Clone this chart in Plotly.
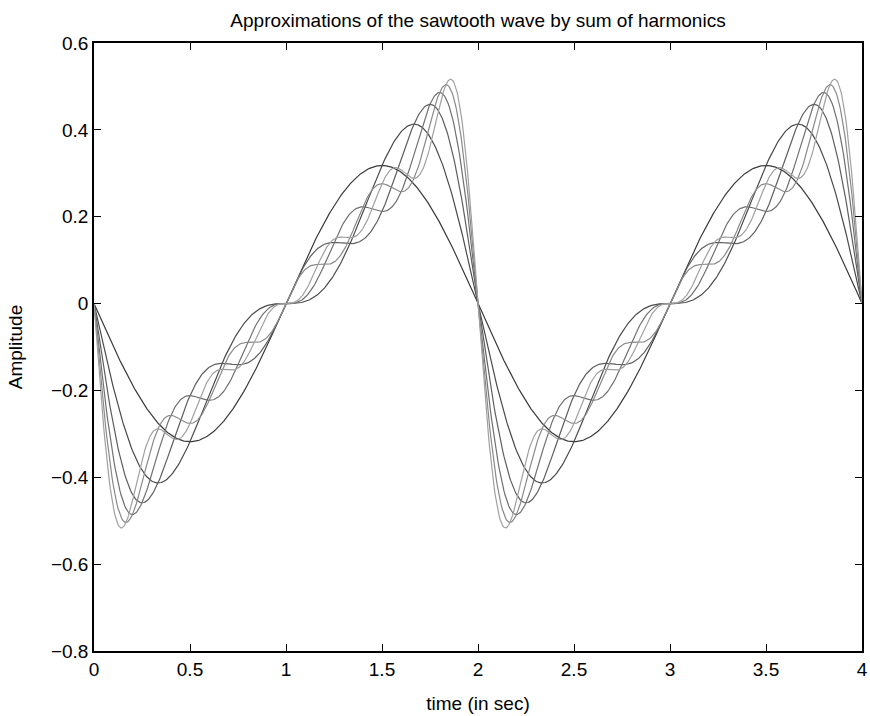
import numpy as np
import plotly.graph_objects as go

# Harmonic amplitudes of the sawtooth (fundamental peak ~0.32)
harmonic_amps = [0.318, 0.159, 0.106, 0.080, 0.064, 0.053]
num_harmonics = [1, 2, 3, 4, 5, 6]
line_grays = ["#3a3a3a", "#4a4a4a", "#5e5e5e", "#707070", "#8a8a8a", "#a0a0a0"]

period = 2.0
t = np.linspace(0, 4, 801)

x_ticks = [0, 0.5, 1, 1.5, 2, 2.5, 3, 3.5, 4]
x_tick_labels = ["0", "0.5", "1", "1.5", "2", "2.5", "3", "3.5", "4"]
y_ticks = [-0.8, -0.6, -0.4, -0.2, 0, 0.2, 0.4, 0.6]
y_tick_labels = ["\u22120.8", "\u22120.6", "\u22120.4", "\u22120.2", "0", "0.2", "0.4", "0.6"]

fig = go.Figure()
for n, col in zip(num_harmonics, line_grays):
    y = np.zeros_like(t)
    for k in range(1, n + 1):
        y -= harmonic_amps[k - 1] * np.sin(2 * np.pi * k * t / period)
    fig.add_trace(go.Scatter(x=t, y=y, mode="lines",
                             line=dict(color=col, width=1.2),
                             showlegend=False, hoverinfo="skip"))

font = "Liberation Sans, Arial, sans-serif"
axis_common = dict(showgrid=False, zeroline=False, showline=True, mirror="ticks",
                   linecolor="black", linewidth=1.5, ticks="inside", ticklen=7,
                   tickcolor="black", tickwidth=1, automargin=False,
                   tickfont=dict(family=font, size=19, color="black"))

W, H = 870, 716
fig.update_layout(
    width=W, height=H,
    paper_bgcolor="white", plot_bgcolor="white",
    margin=dict(l=94, r=8, t=43, b=65, autoexpand=False),
    title=dict(text="Approximations of the sawtooth wave by sum of harmonics",
               x=478 / W, xanchor="center", y=1 - 20 / H, yanchor="middle",
               font=dict(family=font, size=19, color="black")),
    xaxis=dict(range=[0, 4], tickvals=x_ticks, ticktext=x_tick_labels,
               title=dict(text="time (in sec)", standoff=18,
                          font=dict(family=font, size=19, color="black")),
               **axis_common),
    yaxis=dict(range=[-0.8, 0.6], tickvals=y_ticks, ticktext=y_tick_labels,
               title=dict(text="Amplitude", standoff=23,
                          font=dict(family=font, size=19, color="black")),
               **axis_common),
)

fig.write_html("out.html", config={"displayModeBar": False},
               post_script="document.body.style.margin='0px';document.body.style.overflow='hidden';")
